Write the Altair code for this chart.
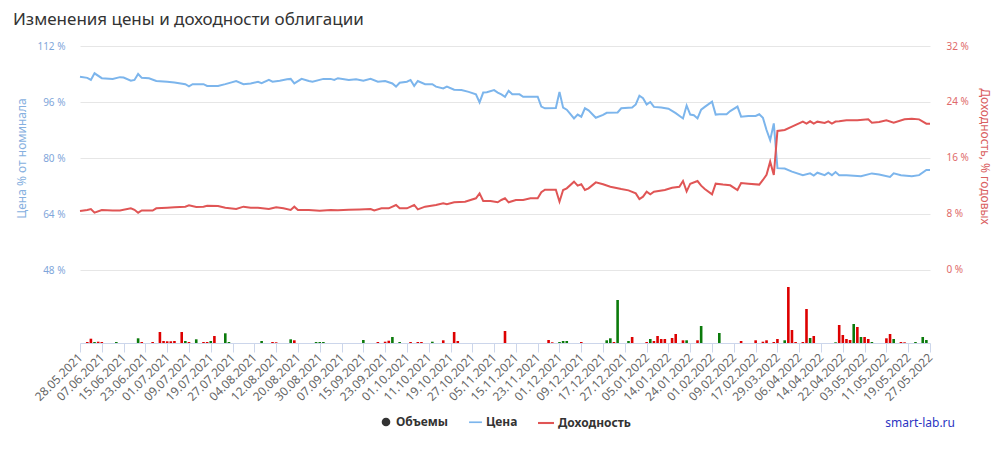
import altair as alt
import pandas as pd

# ---- data ----
x_labels = ["28.05.2021", "07.06.2021", "15.06.2021", "23.06.2021", "01.07.2021", "09.07.2021",
            "19.07.2021", "27.07.2021", "04.08.2021", "12.08.2021", "20.08.2021", "30.08.2021",
            "07.09.2021", "15.09.2021", "23.09.2021", "01.10.2021", "11.10.2021", "19.10.2021",
            "27.10.2021", "05.11.2021", "15.11.2021", "23.11.2021", "01.12.2021", "09.12.2021",
            "17.12.2021", "27.12.2021", "05.01.2022", "14.01.2022", "24.01.2022", "01.02.2022",
            "09.02.2022", "17.02.2022", "29.03.2022", "06.04.2022", "14.04.2022", "22.04.2022",
            "03.05.2022", "11.05.2022", "19.05.2022", "27.05.2022"]

price_day = [0, 2, 3, 4, 6, 9, 11, 12, 14, 15, 16, 17, 19, 21, 24, 26, 29, 30, 31, 34, 35, 38, 40, 41,
             43, 45, 47, 49, 50, 52, 53, 55, 57, 58, 59, 61, 63, 64, 67, 69, 70, 71, 74, 76, 78, 80,
             82, 84, 86, 87, 88, 90, 91, 92, 93, 95, 97, 98, 100, 101, 103, 105, 107, 109, 110, 111,
             112, 114, 115, 116, 117, 118, 119, 121, 122, 126, 127, 128, 131, 132, 133, 134, 136, 137,
             138, 139, 140, 142, 144, 145, 148, 149, 152, 153, 154, 155, 156, 157, 158, 160, 162, 164,
             166, 167, 168, 169, 170, 171, 172, 174, 175, 176, 178, 179, 181, 182, 184, 186, 187, 188,
             189, 190, 191, 192, 194, 196, 199, 201, 202, 203, 205, 206, 207, 208, 209, 211, 215, 218,
             220, 223, 224, 226, 229, 231, 233, 234]
price_val = [103.2, 102.9, 102.3, 104.2, 102.8, 102.6, 103.1, 103.0, 102.1, 102.3, 104.0, 102.9, 102.8,
             102.0, 101.8, 101.6, 101.1, 100.5, 101.1, 101.1, 100.6, 100.6, 101.1, 101.4, 102.0, 101.1,
             101.3, 101.8, 101.4, 102.3, 101.8, 102.1, 102.5, 102.6, 101.3, 102.6, 102.0, 101.8, 102.6,
             102.6, 102.3, 102.8, 102.3, 102.5, 102.1, 102.6, 101.8, 102.0, 101.3, 100.4, 101.5, 101.8,
             102.3, 100.6, 102.0, 101.1, 101.1, 100.4, 99.9, 100.4, 99.5, 99.4, 98.9, 98.2, 95.9, 98.7,
             98.8, 99.4, 98.7, 98.2, 97.5, 99.2, 98.2, 98.2, 97.5, 97.5, 94.7, 94.2, 94.3, 98.9, 94.4,
             93.8, 91.3, 92.4, 91.8, 94.2, 93.6, 91.5, 92.3, 92.9, 93.0, 94.2, 94.4, 95.3, 97.8, 97.1,
             95.3, 96.0, 94.6, 94.4, 94.1, 92.8, 91.3, 95.0, 92.4, 92.2, 91.3, 93.8, 94.6, 96.1, 92.4,
             92.5, 92.5, 93.4, 94.7, 91.8, 92.0, 92.0, 92.5, 91.5, 88.0, 85.1, 89.9, 77.1, 77.0, 76.1,
             75.1, 75.6, 75.0, 75.8, 75.1, 75.8, 75.1, 76.0, 75.1, 75.1, 74.8, 75.6, 75.3, 74.6, 75.6,
             75.1, 74.8, 75.1, 76.6, 76.6]

yield_day = [0, 2, 3, 4, 6, 9, 11, 14, 15, 16, 17, 20, 21, 24, 26, 29, 30, 32, 34, 35, 38, 40, 43, 45,
             47, 49, 52, 54, 56, 58, 59, 60, 63, 66, 69, 71, 74, 77, 80, 81, 83, 85, 87, 88, 90, 92, 93,
             95, 98, 100, 101, 103, 106, 109, 110, 111, 113, 115, 116, 117, 118, 120, 122, 124, 126,
             127, 128, 131, 132, 133, 134, 136, 137, 138, 139, 140, 142, 144, 146, 149, 151, 153, 154,
             155, 156, 157, 158, 161, 163, 165, 166, 167, 168, 170, 171, 172, 174, 175, 177, 179, 181,
             182, 184, 187, 188, 189, 190, 191, 192, 194, 196, 199, 200, 201, 202, 203, 205, 206, 207,
             208, 209, 211, 214, 217, 218, 220, 222, 224, 227, 229, 231, 233, 234]
yield_val = [8.43, 8.57, 8.71, 8.19, 8.57, 8.5, 8.5, 8.81, 8.6, 8.19, 8.5, 8.5, 8.81, 8.9, 8.95, 9.05,
             9.24, 9.0, 9.05, 9.19, 9.15, 8.9, 8.71, 9.05, 8.9, 8.9, 8.71, 8.95, 8.81, 8.57, 9.05, 8.57,
             8.57, 8.47, 8.57, 8.52, 8.62, 8.66, 8.71, 8.5, 8.81, 8.81, 9.29, 8.81, 8.81, 9.29, 8.66,
             9.05, 9.29, 9.52, 9.4, 9.67, 9.76, 10.24, 10.95, 9.86, 9.86, 9.67, 10.0, 10.24, 9.67, 10.0,
             10.0, 10.24, 10.24, 11.1, 11.48, 11.48, 9.76, 11.43, 11.67, 12.62, 12.05, 12.24, 11.43,
             11.67, 12.52, 12.24, 11.9, 11.57, 11.38, 10.95, 10.14, 10.48, 11.19, 10.81, 11.19, 11.43,
             11.76, 11.9, 12.71, 11.24, 12.33, 12.71, 12.05, 11.57, 10.81, 12.33, 12.2, 12.1, 11.43,
             12.43, 12.33, 12.2, 12.86, 13.6, 15.48, 13.57, 19.86, 20.0, 20.48, 21.19, 20.9, 21.24,
             20.9, 21.19, 21.0, 21.24, 20.9, 21.2, 21.24, 21.38, 21.38, 21.52, 21.05, 21.14, 21.38,
             21.05, 21.52, 21.62, 21.52, 20.9, 20.9]

vol_day = [2, 3, 4, 5, 6, 10, 16, 17, 20, 22, 23, 24, 25, 26, 28, 29, 30, 32, 34, 35, 36, 37, 40, 41,
           50, 53, 54, 58, 59, 65, 66, 67, 78, 82, 84, 85, 86, 88, 91, 93, 94, 97, 100, 103, 104, 117,
           129, 130, 132, 133, 134, 138, 145, 146, 147, 148, 151, 152, 156, 157, 158, 159, 160, 161,
           163, 164, 166, 167, 170, 171, 176, 182, 186, 188, 189, 191, 192, 194, 195, 196, 197, 199,
           200, 201, 202, 208, 209, 210, 211, 212, 213, 214, 215, 216, 217, 218, 222, 223, 224, 226,
           227, 230, 232, 233]
vol_val = [1, 4.3, 1, 1.3, 1, 1, 4.7, 1, 1, 11, 2, 1.7, 1.7, 2, 11, 2, 1, 3.7, 1, 1, 2, 7, 9.7, 1,
           2, 1, 0.7, 3.7, 2.7, 1, 1, 1, 3, 1, 1.3, 2.3, 6, 1, 1, 1, 1, 1.3, 2.7, 11, 2, 12,
           3, 0.7, 1, 2, 2, 1, 2.7, 4.7, 1, 43, 2, 6, 1, 4, 2, 7, 4, 4,
           5, 9, 2.7, 2.7, 2.7, 17, 10, 2, 2.7, 1.3, 2.7, 1, 4, 2.7, 56, 13, 1, 1,
           34, 5, 7, 0.7, 18, 8, 4, 3, 19, 16, 6, 6, 4, 1, 4.7, 9, 4, 1,
           0.7, 1, 6, 3]
vol_dir = ["down", "down", "up", "down", "down", "up", "up", "down", "down", "down", "down", "down",
           "down", "down", "down", "up", "down", "up", "down", "down", "up", "down", "up", "up",
           "up", "down", "down", "up", "down", "up", "up", "up", "up", "down", "down", "down", "up",
           "up", "down", "down", "down", "up", "down", "down", "down", "down",
           "down", "down", "up", "up", "up", "down", "up", "up", "down", "up", "up", "down", "down",
           "up", "down", "down", "down", "down",
           "down", "down", "down", "up", "down", "up", "up", "down", "down", "down", "down", "down",
           "down", "up", "down", "down", "down", "down",
           "down", "up", "down", "up", "down", "down", "down", "down", "up", "down", "up", "down",
           "down", "up", "down", "down", "up", "down",
           "down", "up", "up", "up"]

legend_items = ["Объемы", "Цена", "Доходность"]

# ---- styling ----
FONT = "Noto Sans"
BLUE = "#7cb5ec"
RED = "#e05555"
UP = "#0b7a0b"
DOWN = "#dd0000"
LINE_SHAPE = "M-1,-0.13H1V0.13H-1Z"

price_df = pd.DataFrame({"day": price_day, "price": price_val})
yield_df = pd.DataFrame({"day": yield_day, "yld": yield_val})
vol_df = pd.DataFrame({"day": vol_day, "vol": vol_val, "dir": vol_dir})
legend_df = pd.DataFrame({"series": legend_items, "day": [None] * 3, "v": [None] * 3})

label_js = "[" + ",".join("'" + s + "'" for s in x_labels) + "]"
tick_vals = [i * 6 for i in range(len(x_labels))]

x_scale = alt.Scale(domain=[0, 234], nice=False, zero=False, padding=0)
x_enc = alt.X("day:Q", scale=x_scale,
              axis=alt.Axis(values=tick_vals, labelExpr=label_js + "[round(datum.value / 6)]",
                            labelAngle=-45, labelAlign="right", labelBaseline="middle",
                            labelFont=FONT, labelFontSize=12, labelColor="#666666",
                            labelPadding=3, tickSize=9, tickColor="#ccd6eb", domainColor="#ccd6eb",
                            grid=False, title=None, labelOverlap=False, labelBound=False,
                            labelFlush=False))

price_line = alt.Chart(price_df).mark_line(strokeWidth=2, color=BLUE).encode(
    x=x_enc,
    y=alt.Y("price:Q", scale=alt.Scale(domain=[27.143, 112], nice=False, zero=False),
            axis=alt.Axis(orient="left", values=[48, 64, 80, 96, 112], labelExpr="datum.value + ' %'",
                          labelFont=FONT, labelFontSize=10, labelColor="#7fa6da", labelPadding=15,
                          tickSize=0, domain=False, grid=True, gridColor="#e6e6e6",
                          title="Цена % от номинала", titleFont=FONT, titleFontSize=12,
                          titleFontWeight="normal", titleColor="#86b0e0", titleX=-59, titleY=112,
                          titleAngle=-90, titleAlign="center", titleBaseline="middle")),
)

yield_line = alt.Chart(yield_df).mark_line(strokeWidth=2, color=RED).encode(
    x=x_enc,
    y=alt.Y("yld:Q", scale=alt.Scale(domain=[-10.4286, 32], nice=False, zero=False),
            axis=alt.Axis(orient="right", values=[0, 8, 16, 24, 32], labelExpr="datum.value + ' %'",
                          labelFont=FONT, labelFontSize=10, labelColor="#e06a6a", labelPadding=16,
                          tickSize=0, domain=False, grid=False,
                          title="Доходность, % годовых", titleFont=FONT, titleFontSize=12,
                          titleFontWeight="normal", titleColor="#d9605f", titleX=54, titleY=110,
                          titleAngle=90, titleAlign="center", titleBaseline="middle")),
)

vol_scale = alt.Scale(domain=[0, 297], nice=False, zero=True)
vol_up = alt.Chart(vol_df).transform_filter(alt.datum.dir == "up").mark_bar(size=2.6, color=UP).encode(
    x=x_enc, y=alt.Y("vol:Q", scale=vol_scale, axis=None))
vol_down = alt.Chart(vol_df).transform_filter(alt.datum.dir == "down").mark_bar(size=2.6, color=DOWN).encode(
    x=x_enc, y=alt.Y("vol:Q", scale=vol_scale, axis=None))

legend = alt.Legend(
    title=None, orient="none", legendX=300, legendY=369, direction="horizontal",
    labelFont=FONT, labelFontSize=12, labelFontWeight="bold", labelColor="#333333",
    labelOffset=4, columnPadding=20, padding=0, symbolStrokeWidth=0,
)
legend_layer = alt.Chart(legend_df).mark_point(filled=True, opacity=1).encode(
    x=x_enc,
    y=alt.Y("v:Q", axis=None),
    color=alt.Color("series:N", scale=alt.Scale(domain=legend_items, range=["#333333", BLUE, RED]),
                    legend=legend),
    shape=alt.Shape("series:N", scale=alt.Scale(domain=legend_items,
                                                range=["circle", LINE_SHAPE, LINE_SHAPE]),
                    legend=legend),
    size=alt.Size("series:N", scale=alt.Scale(domain=legend_items, range=[75, 256, 256]),
                  legend=legend),
)

credit = alt.Chart(pd.DataFrame({"t": ["smart-lab.ru"]})).mark_text(
    align="right", baseline="middle", font=FONT, fontSize=12, color="#2b35c2").encode(
    text="t:N", x=alt.value(875), y=alt.value(377))

chart = alt.layer(vol_up, vol_down, price_line, yield_line, legend_layer, credit).resolve_scale(
    y="independent"
).properties(
    width=850, height=297,
    autosize=alt.AutoSizeParams(type="none"),
    padding={"left": 80, "top": 46, "right": 78, "bottom": 113},
    title=alt.TitleParams("Изменения цены и доходности облигации", anchor="start", frame="group",
                          dx=-67, offset=12, font=FONT, fontSize=17, fontWeight="normal",
                          color="#333333"),
    background="white",
).configure_view(stroke=None)

chart.save("out.html", embed_options={"renderer": "svg", "actions": False})
